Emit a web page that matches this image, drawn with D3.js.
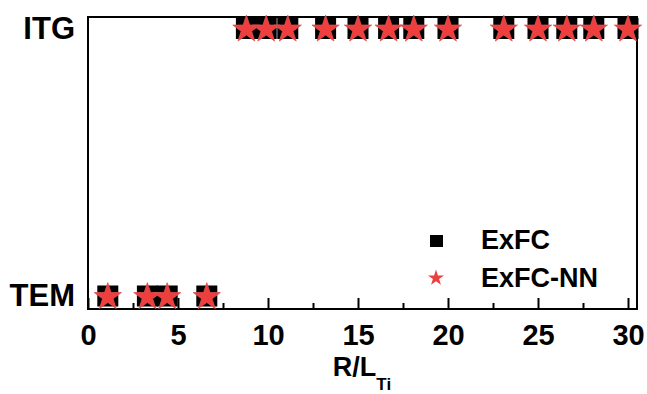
<!DOCTYPE html>
<html>
<head>
<meta charset="utf-8">
<script src="https://cdn.jsdelivr.net/npm/d3@7"></script>
<style>
  body { margin: 0; background: #fff; }
  svg { display: block; font-family: 'Liberation Sans', Arial, sans-serif; }
</style>
</head>
<body>
<svg width="647" height="394"></svg>
<script>
const modes = [ 'TEM', 'ITG' ];
// R/L_Ti values for each mode
const temX = [ 1.1, 3.3, 4.4, 6.6 ];
const itgX = [ 8.8, 9.9, 11.1, 13.2, 15, 16.7, 18.1, 20, 23.1, 25, 26.6, 28.1, 30 ];
const majorTicks = [ 0, 5, 10, 15, 20, 25, 30 ];
const minorTicks = [ 2.5, 7.5, 12.5, 17.5, 22.5, 27.5 ];

const points = temX.map( x => ( { x: x, mode: 'TEM' } ) )
  .concat( itgX.map( x => ( { x: x, mode: 'ITG' } ) ) );

const plotLeft = 88, plotRight = 637, plotTop = 17, plotBottom = 309;
const svg = d3.select( 'svg' );

const x = d3.scaleLinear().domain( [ 0, 30.5 ] ).range( [ plotLeft, plotRight ] );
const y = d3.scalePoint().domain( modes ).range( [ 296, 28.5 ] );

// frame
svg.append( 'rect' )
  .attr( 'x', plotLeft ).attr( 'y', plotTop )
  .attr( 'width', plotRight - plotLeft ).attr( 'height', plotBottom - plotTop )
  .attr( 'fill', 'none' ).attr( 'stroke', '#000' ).attr( 'stroke-width', 2 );

// bottom axis, ticks pointing inwards
const xAxis = svg.append( 'g' )
  .attr( 'transform', 'translate(0,' + plotBottom + ')' )
  .call( d3.axisBottom( x ).tickValues( majorTicks ).tickSize( -11 ).tickPadding( 15 ) );
xAxis.select( '.domain' ).remove();
xAxis.selectAll( 'line' ).attr( 'stroke-width', 2 );
xAxis.selectAll( 'text' )
  .attr( 'font-size', '29px' ).attr( 'font-weight', 'bold' ).attr( 'fill', '#000' )
  .attr( 'font-family', "'Liberation Sans', Arial, sans-serif" );

const xMinor = svg.append( 'g' )
  .attr( 'transform', 'translate(0,' + plotBottom + ')' )
  .call( d3.axisBottom( x ).tickValues( minorTicks ).tickSize( -6 ).tickFormat( '' ) );
xMinor.select( '.domain' ).remove();
xMinor.selectAll( 'line' ).attr( 'stroke-width', 2 );

// left axis: category labels only
const yAxis = svg.append( 'g' )
  .attr( 'transform', 'translate(' + plotLeft + ',0)' )
  .call( d3.axisLeft( y ).tickSize( 0 ).tickPadding( 13 ) );
yAxis.select( '.domain' ).remove();
yAxis.selectAll( 'text' )
  .attr( 'font-size', '31px' ).attr( 'font-weight', 'bold' ).attr( 'fill', '#000' )
  .attr( 'font-family', "'Liberation Sans', Arial, sans-serif" );

// axis title R/L_Ti
const title = svg.append( 'text' )
  .attr( 'x', 362 ).attr( 'y', 376 )
  .attr( 'text-anchor', 'middle' )
  .attr( 'font-size', '27px' ).attr( 'font-weight', 'bold' );
title.append( 'tspan' ).text( 'R/L' );
title.append( 'tspan' ).attr( 'font-size', '17px' ).attr( 'dy', 14 ).text( 'Ti' );

const star = d3.symbol().type( d3.symbolStar );

// ExFC squares
svg.append( 'g' ).selectAll( 'rect' )
  .data( points )
  .join( 'rect' )
  .attr( 'x', d => x( d.x ) - 10.5 )
  .attr( 'y', d => y( d.mode ) - 10.5 )
  .attr( 'width', 21 ).attr( 'height', 21 )
  .attr( 'fill', '#000' );

// ExFC-NN stars
svg.append( 'g' ).selectAll( 'path' )
  .data( points )
  .join( 'path' )
  .attr( 'd', star.size( 230 ) )
  .attr( 'transform', d => 'translate(' + x( d.x ) + ',' + ( y( d.mode ) + 1 ) + ')' )
  .attr( 'fill', '#ef3e3e' )
  .attr( 'stroke', '#e05050' ).attr( 'stroke-width', 0.8 );

// legend
const legend = svg.append( 'g' );
legend.append( 'rect' )
  .attr( 'x', 430 ).attr( 'y', 235 ).attr( 'width', 13 ).attr( 'height', 12 )
  .attr( 'fill', '#000' );
legend.append( 'path' )
  .attr( 'd', star.size( 80 ) )
  .attr( 'transform', 'translate(436,278)' )
  .attr( 'fill', '#ef3e3e' );
legend.append( 'text' )
  .attr( 'x', 481 ).attr( 'y', 249 )
  .attr( 'font-size', '27px' ).attr( 'font-weight', 'bold' )
  .text( 'ExFC' );
legend.append( 'text' )
  .attr( 'x', 481 ).attr( 'y', 287 )
  .attr( 'font-size', '27px' ).attr( 'font-weight', 'bold' )
  .text( 'ExFC-NN' );
</script>
</body>
</html>
